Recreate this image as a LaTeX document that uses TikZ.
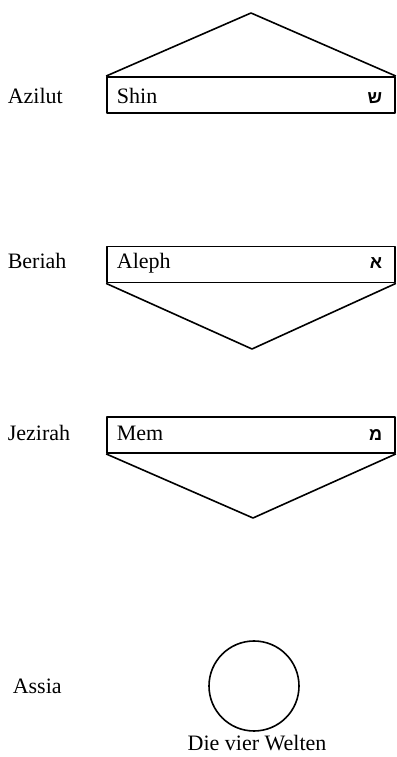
\documentclass[tikz,border=0pt]{standalone}
\usepackage{fontspec}
\setmainfont{Liberation Serif}
\newfontfamily\hebrewfont[Script=Hebrew]{Liberation Sans}
\TeXXeTstate=1
\tikzset{
  worldbox/.style={draw,rectangle,minimum width=288pt,minimum height=36pt,inner sep=0pt,line width=1.8pt},
  worldname/.style={anchor=base west,inner sep=0pt},
  lettername/.style={anchor=base west,inner sep=0pt,xshift=10pt},
  letterglyph/.style={anchor=base east,inner sep=0pt,xshift=-13pt,font=\hebrewfont\bfseries\fontsize{18}{20}\selectfont}
}
\begin{document}
\begin{tikzpicture}[x=1pt,y=1pt,line width=1.6pt,line join=round,font=\fontsize{22}{26}\selectfont]
  \useasboundingbox (0,0) rectangle (396,757);
  \coordinate (azilutapex) at (251,744);
  \coordinate (beriahapex) at (252,408);
  \coordinate (jezirahapex) at (253,239);

  \node[worldbox] (azilutbox) at (251,662) {};
  \node[worldbox] (beriahbox) at (251,492.5) {};
  \node[worldbox] (jezirahbox) at (251,322) {};
  \node[draw,circle,minimum size=90pt,inner sep=0pt] (assiacircle) at (254,71) {};

  \draw (azilutbox.north west) -- (azilutapex) -- (azilutbox.north east);
  \draw (beriahbox.south west) -- (beriahapex) -- (beriahbox.south east);
  \draw (jezirahbox.south west) -- (jezirahapex) -- (jezirahbox.south east);

  \node[worldname] (azilut) at (7,653) {Azilut};
  \node[worldname] (beriah) at (7,488) {Beriah};
  \node[worldname] (jezirah) at (7,316) {Jezirah};
  \node[worldname] (assia) at (12,63) {Assia};

  \node[lettername] (shin) at (azilut.base -| azilutbox.west) {Shin};
  \node[lettername] (aleph) at (beriah.base -| beriahbox.west) {Aleph};
  \node[lettername] (mem) at (jezirah.base -| jezirahbox.west) {Mem};
  \node[letterglyph] (shinglyph) at (azilut.base -| azilutbox.east) {\beginR ש\endR};
  \node[letterglyph] (alephglyph) at (beriah.base -| beriahbox.east) {\beginR א\endR};
  \node[letterglyph] (memglyph) at (jezirah.base -| jezirahbox.east) {\beginR מ\endR};

  \node[anchor=base] (caption) at (257,6) {Die vier Welten};
\end{tikzpicture}
\end{document}
